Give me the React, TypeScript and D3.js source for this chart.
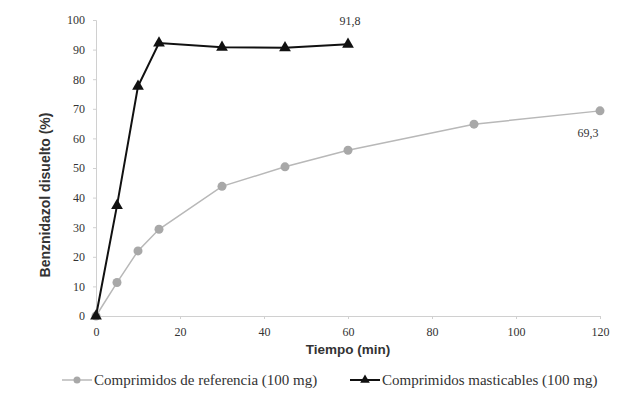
import React, { useEffect, useRef } from 'react';
import * as d3 from 'd3';

// time points (min) and % dissolved
const refTimes = [0, 5, 10, 15, 30, 45, 60, 90, 120];
const refValues = [0, 11.3, 22, 29.3, 43.8, 50.4, 56, 64.8, 69.3];
const chewTimes = [0, 5, 10, 15, 30, 45, 60];
const chewValues = [0, 37.3, 77.6, 92.2, 90.8, 90.6, 91.8];
const xTicks = [0, 20, 40, 60, 80, 100, 120];
const yTicks = [0, 10, 20, 30, 40, 50, 60, 70, 80, 90, 100];
const seriesNames = ['Comprimidos de referencia (100 mg)', 'Comprimidos masticables (100 mg)'];
const annotations = [
  { t: 60, v: 91.8, label: '91,8', dx: 2, dy: -19 },
  { t: 120, v: 69.3, label: '69,3', dx: -12, dy: 26 },
];

const serif = '"Liberation Serif", "Times New Roman", serif';
const sans = '"Liberation Sans", Arial, sans-serif';

export default function App() {
  const ref = useRef<SVGSVGElement>(null);
  const width = 638;
  const height = 396;
  const margin = { top: 20, right: 38, bottom: 80, left: 96 };

  useEffect(() => {
    const svg = d3.select(ref.current);
    svg.selectAll('*').remove();

    const x = d3.scaleLinear().domain([0, 120]).range([margin.left, width - margin.right]);
    const y = d3.scaleLinear().domain([0, 100]).range([height - margin.bottom, margin.top]);

    // axes
    const xAxis = svg.append('g')
      .attr('transform', `translate(0,${y(0)})`)
      .call(d3.axisBottom(x).tickValues(xTicks).tickSize(3).tickPadding(8));
    const yAxis = svg.append('g')
      .attr('transform', `translate(${x(0)},0)`)
      .call(d3.axisLeft(y).tickValues(yTicks).tickSize(3).tickPadding(8));

    [xAxis, yAxis].forEach(a => {
      a.attr('font-family', serif).attr('font-size', 12);
      a.select('.domain').attr('stroke', '#d0d0d0');
      a.selectAll('.tick line').attr('stroke', '#d0d0d0');
      a.selectAll('.tick text').attr('fill', '#333');
    });

    svg.append('text')
      .attr('x', (x(0) + x(120)) / 2)
      .attr('y', height - 42)
      .attr('text-anchor', 'middle')
      .style('font-family', sans)
      .style('font-weight', 'bold')
      .style('font-size', '13.5px')
      .attr('fill', '#333')
      .text('Tiempo (min)');

    svg.append('text')
      .attr('transform', `translate(50,${(y(0) + y(100)) / 2 + 27}) rotate(-90)`)
      .attr('text-anchor', 'middle')
      .style('font-family', sans)
      .style('font-weight', 'bold')
      .style('font-size', '14px')
      .attr('fill', '#333')
      .text('Benznidazol disuelto (%)');

    const line = d3.line<[number, number]>().x(d => x(d[0])).y(d => y(d[1]));
    const refData = refTimes.map((t, i) => [t, refValues[i]] as [number, number]);
    const chewData = chewTimes.map((t, i) => [t, chewValues[i]] as [number, number]);

    // reference series
    svg.append('path')
      .datum(refData)
      .attr('d', line)
      .attr('fill', 'none')
      .attr('stroke', '#b8b8b8')
      .attr('stroke-width', 1.5);
    svg.selectAll('.refpt')
      .data(refData)
      .enter()
      .append('circle')
      .attr('cx', d => x(d[0]))
      .attr('cy', d => y(d[1]))
      .attr('r', 4.5)
      .attr('fill', '#a8a8a8');

    // chewable series
    const tri = d3.symbol().type(d3.symbolTriangle).size(60);
    svg.append('path')
      .datum(chewData)
      .attr('d', line)
      .attr('fill', 'none')
      .attr('stroke', '#111')
      .attr('stroke-width', 2);
    svg.selectAll('.chewpt')
      .data(chewData)
      .enter()
      .append('path')
      .attr('d', tri)
      .attr('transform', d => `translate(${x(d[0])},${y(d[1])})`)
      .attr('fill', '#111');

    // value labels
    svg.selectAll('.ann')
      .data(annotations)
      .enter()
      .append('text')
      .attr('x', d => x(d.t) + d.dx)
      .attr('y', d => y(d.v) + d.dy)
      .attr('text-anchor', 'middle')
      .style('font-family', serif)
      .style('font-size', '12px')
      .attr('fill', '#333')
      .text(d => d.label);

    // legend
    const ly = 380;
    const leg = [
      { x0: 62, color: '#b8b8b8', mark: 'circle' },
      { x0: 350, color: '#111', mark: 'tri' },
    ];
    leg.forEach((l, i) => {
      const g = svg.append('g').attr('transform', `translate(${l.x0},${ly})`);
      g.append('line').attr('x1', 0).attr('x2', 30).attr('y1', 0).attr('y2', 0)
        .attr('stroke', l.color).attr('stroke-width', i === 0 ? 1.5 : 2);
      if (l.mark === 'circle') {
        g.append('circle').attr('cx', 15).attr('cy', 0).attr('r', 3.5).attr('fill', '#a8a8a8');
      } else {
        g.append('path').attr('d', d3.symbol().type(d3.symbolTriangle).size(40)).attr('transform', 'translate(15,0)').attr('fill', '#111');
      }
      g.append('text')
        .attr('x', 32)
        .attr('y', 0)
        .attr('dy', '0.35em')
        .style('font-family', serif)
        .style('font-size', '15px')
        .attr('fill', '#333')
        .text(seriesNames[i]);
    });
  }, []);

  return (
    <div style={{ margin: -8 }}>
      <svg ref={ref} width={width} height={height} style={{ display: 'block', background: '#fff' }} />
    </div>
  );
}
